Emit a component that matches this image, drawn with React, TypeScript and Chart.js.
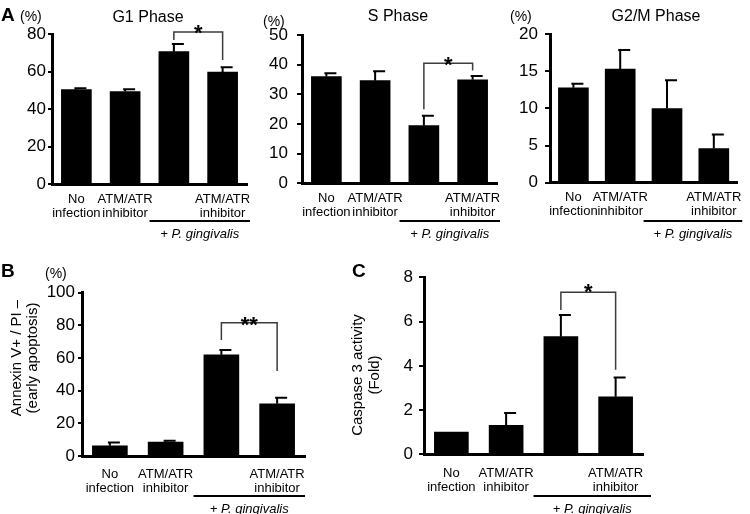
import React, { useEffect, useRef } from 'react';
import { Chart, registerables } from 'chart.js';

Chart.register(...registerables);

const FONT = '"Liberation Sans", Arial, sans-serif';

const categories: (string | string[])[] = [['No', 'infection'], ['ATM/ATR', 'inhibitor'], '', ['ATM/ATR', 'inhibitor']];
const groupLabel = '+ P. gingivalis';

const g1Values = [50.3, 49.3, 70.6, 59.7];
const g1Errors = [0.8, 1.3, 4.1, 2.6];
const g1Ticks = [0, 20, 40, 60, 80];
const g1Bracket = [81.1, 76.8, 66.1];

const sValues = [36.0, 34.6, 19.5, 34.9];
const sErrors = [1.1, 3.2, 3.3, 1.3];
const sTicks = [0, 10, 20, 30, 40, 50];
const sBracket = [40.5, 25.0, 38.0];

const g2mValues = [12.8, 15.3, 10.0, 4.6];
const g2mErrors = [0.55, 2.6, 3.8, 1.9];
const g2mTicks = [0, 5, 10, 15, 20];

const annexinValues = [6.3, 8.6, 62.0, 32.0];
const annexinErrors = [1.9, 0.8, 2.9, 3.7];
const annexinTicks = [0, 20, 40, 60, 80, 100];
const annexinBracket = [81.6, 71.0, 52.0];

const caspaseValues = [1.0, 1.31, 5.32, 2.6];
const caspaseErrors = [0, 0.56, 0.98, 0.87];
const caspaseTicks = [0, 2, 4, 6, 8];
const caspaseBracket = [7.33, 6.53, 3.82];

type Txt = { text: string; x: number; y: number; font: string; align: CanvasTextAlign };

type PanelDef = {
  key: string;
  values: number[];
  errors: number[];
  ticks: number[];
  bracket: number[] | null;
  star: string;
  starDy: number;
  plot: { l: number; t: number; r: number; b: number };
  tickLen: number;
  tickPad: number;
  barW: number;
  labelPad: number;
  lineY: number;
  lineExt: number;
  groupY: number;
  texts: Txt[];
  yTitle: { lines: string[]; xs: number[]; y: number } | null;
};

const panels: PanelDef[] = [
  {
    key: 'g1', values: g1Values, errors: g1Errors, ticks: g1Ticks, bracket: g1Bracket, star: '*', starDy: 8,
    plot: { l: 52, t: 34, r: 247, b: 184 }, tickLen: 4, tickPad: 2, barW: 30, labelPad: 8,
    lineY: 221, lineExt: 3, groupY: 234,
    texts: [
      { text: 'A', x: 1, y: 21, font: 'bold 19px ' + FONT, align: 'left' },
      { text: '(%)', x: 20, y: 21, font: '14px ' + FONT, align: 'left' },
      { text: 'G1 Phase', x: 148, y: 22, font: '16px ' + FONT, align: 'center' },
    ],
    yTitle: null,
  },
  {
    key: 's', values: sValues, errors: sErrors, ticks: sTicks, bracket: sBracket, star: '*', starDy: 9,
    plot: { l: 302, t: 35, r: 497, b: 183.3 }, tickLen: 5, tickPad: 9, barW: 30, labelPad: 8,
    lineY: 221, lineExt: 3, groupY: 234,
    texts: [
      { text: '(%)', x: 263, y: 26, font: '14px ' + FONT, align: 'left' },
      { text: 'S Phase', x: 398, y: 21, font: '16px ' + FONT, align: 'center' },
    ],
    yTitle: null,
  },
  {
    key: 'g2m', values: g2mValues, errors: g2mErrors, ticks: g2mTicks, bracket: null, star: '', starDy: 0,
    plot: { l: 550, t: 34.3, r: 745, b: 182.7 }, tickLen: 5, tickPad: 7, barW: 30, labelPad: 8,
    lineY: 221, lineExt: 5, groupY: 234,
    texts: [
      { text: '(%)', x: 510, y: 21, font: '14px ' + FONT, align: 'left' },
      { text: 'G2/M Phase', x: 656, y: 21, font: '16px ' + FONT, align: 'center' },
    ],
    yTitle: null,
  },
  {
    key: 'b', values: annexinValues, errors: annexinErrors, ticks: annexinTicks, bracket: annexinBracket, star: '**', starDy: 9,
    plot: { l: 82, t: 292.7, r: 305, b: 456 }, tickLen: 4, tickPad: 3, barW: 35, labelPad: 11,
    lineY: 496, lineExt: 0, groupY: 509,
    texts: [
      { text: 'B', x: 1, y: 277, font: 'bold 19px ' + FONT, align: 'left' },
      { text: '(%)', x: 45, y: 278, font: '14px ' + FONT, align: 'left' },
    ],
    yTitle: { lines: ['Annexin V+ / PI \u2013', '(early apoptosis)'], xs: [17, 33], y: 358 },
  },
  {
    key: 'c', values: caspaseValues, errors: caspaseErrors, ticks: caspaseTicks, bracket: caspaseBracket, star: '*', starDy: 7,
    plot: { l: 424, t: 277.4, r: 643, b: 454.3 }, tickLen: 5, tickPad: 6, barW: 34, labelPad: 12,
    lineY: 496, lineExt: 8, groupY: 509,
    texts: [
      { text: 'C', x: 352, y: 277, font: 'bold 19px ' + FONT, align: 'left' },
    ],
    yTitle: { lines: ['Caspase 3 activity', '(Fold)'], xs: [358, 375], y: 375 },
  },
];

const W = 750;
const H = 514;
const Y_BOX = 40;

function makeConfig(p: PanelDef): any {
  const plugin = {
    id: 'decor_' + p.key,
    afterDraw(chart: any) {
      const ctx = chart.ctx as CanvasRenderingContext2D;
      const xs = chart.scales.x;
      const ys = chart.scales.y;
      ctx.save();
      // error bars
      ctx.strokeStyle = '#000';
      ctx.lineWidth = 2;
      p.values.forEach((v, i) => {
        const e = p.errors[i];
        if (!e) return;
        const cx = xs.getPixelForValue(i);
        const y0 = ys.getPixelForValue(v);
        const y1 = ys.getPixelForValue(v + e);
        ctx.beginPath();
        ctx.moveTo(cx, y0);
        ctx.lineTo(cx, y1);
        ctx.moveTo(cx - 2, y1);
        ctx.lineTo(cx + 10, y1);
        ctx.stroke();
      });
      // significance bracket
      if (p.bracket) {
        const [bt, bl, br] = p.bracket;
        const xl = xs.getPixelForValue(2);
        const xr = xs.getPixelForValue(3);
        const yt = ys.getPixelForValue(bt);
        ctx.strokeStyle = '#3c3c3c';
        ctx.lineWidth = 1.5;
        ctx.beginPath();
        ctx.moveTo(xl, ys.getPixelForValue(bl));
        ctx.lineTo(xl, yt);
        ctx.lineTo(xr, yt);
        ctx.lineTo(xr, ys.getPixelForValue(br));
        ctx.stroke();
        ctx.fillStyle = '#000';
        ctx.font = 'bold 22px ' + FONT;
        ctx.textAlign = 'center';
        ctx.textBaseline = 'alphabetic';
        ctx.fillText(p.star, (xl + xr) / 2, yt + p.starDy);
      }
      // group underline
      const ux0 = (xs.getPixelForValue(1) + xs.getPixelForValue(2)) / 2;
      const ux1 = chart.chartArea.right + p.lineExt;
      ctx.strokeStyle = '#000';
      ctx.lineWidth = 2;
      ctx.beginPath();
      ctx.moveTo(ux0, p.lineY);
      ctx.lineTo(ux1, p.lineY);
      ctx.stroke();
      ctx.fillStyle = '#000';
      ctx.font = 'italic 13px ' + FONT;
      ctx.textAlign = 'center';
      ctx.textBaseline = 'middle';
      ctx.fillText(groupLabel, (ux0 + ux1) / 2, p.groupY);
      // panel texts
      ctx.textBaseline = 'alphabetic';
      p.texts.forEach((t) => {
        ctx.font = t.font;
        ctx.textAlign = t.align;
        ctx.fillText(t.text, t.x, t.y);
      });
      if (p.yTitle) {
        const yt = p.yTitle;
        ctx.font = '15px ' + FONT;
        ctx.textAlign = 'center';
        ctx.textBaseline = 'middle';
        yt.lines.forEach((line, i) => {
          ctx.save();
          ctx.translate(yt.xs[i], yt.y);
          ctx.rotate(-Math.PI / 2);
          ctx.fillText(line, 0, 0);
          ctx.restore();
        });
      }
      ctx.restore();
    },
  };

  const yMin = p.ticks[0];
  const yMax = p.ticks[p.ticks.length - 1];

  return {
    type: 'bar',
    data: {
      labels: categories,
      datasets: [
        {
          data: p.values,
          backgroundColor: '#000',
          borderWidth: 0,
          barThickness: p.barW,
        },
      ],
    },
    options: {
      animation: false,
      responsive: false,
      maintainAspectRatio: false,
      events: [],
      layout: {
        padding: { left: p.plot.l - Y_BOX, top: p.plot.t, right: W - p.plot.r, bottom: 0 },
      },
      plugins: {
        legend: { display: false },
        tooltip: { enabled: false },
        title: { display: false },
      },
      scales: {
        x: {
          type: 'category',
          offset: true,
          grid: { display: false, drawTicks: false, tickLength: 0 },
          border: { display: true, color: '#000', width: 3 },
          ticks: {
            color: '#000',
            font: { family: FONT, size: 13, lineHeight: 1.08 },
            padding: p.labelPad,
            autoSkip: false,
            maxRotation: 0,
            minRotation: 0,
          },
          afterFit: (s: any) => {
            s.height = H - p.plot.b;
          },
        },
        y: {
          type: 'linear',
          min: yMin,
          max: yMax,
          grid: {
            display: true,
            drawOnChartArea: false,
            drawTicks: true,
            tickLength: p.tickLen,
            tickColor: '#000',
            lineWidth: 2,
          },
          border: { display: true, color: '#000', width: 3 },
          ticks: {
            color: '#000',
            font: { family: FONT, size: 17 },
            padding: p.tickPad,
          },
          afterBuildTicks: (s: any) => {
            s.ticks = p.ticks.map((v) => ({ value: v }));
          },
          afterFit: (s: any) => {
            s.width = Y_BOX;
          },
        },
      },
    },
    plugins: [plugin],
  };
}

function Panel({ p }: { p: PanelDef }) {
  const ref = useRef<HTMLCanvasElement | null>(null);
  useEffect(() => {
    if (!ref.current) return;
    const chart = new Chart(ref.current, makeConfig(p));
    return () => chart.destroy();
  }, [p]);
  return (
    <canvas
      ref={ref}
      width={W}
      height={H}
      style={{ position: 'absolute', left: 0, top: 0, width: W, height: H }}
    />
  );
}

export default function App() {
  return (
    <div style={{ position: 'absolute', left: 0, top: 0, width: W, height: H, background: '#fff', overflow: 'hidden' }}>
      {panels.map((p) => (
        <Panel key={p.key} p={p} />
      ))}
    </div>
  );
}
